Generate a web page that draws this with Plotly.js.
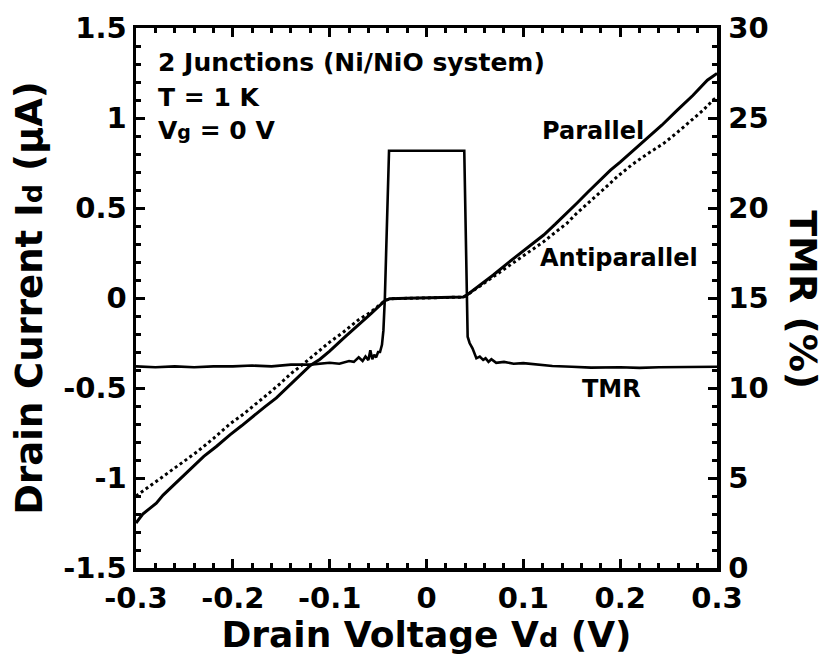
<!DOCTYPE html>
<html>
<head>
<meta charset="utf-8">
<script src="https://cdn.plot.ly/plotly-3.0.1.min.js"></script>
<style>html,body{margin:0;padding:0;background:#fff;}</style>
</head>
<body>
<div id="chart" style="width:825px;height:655px;"></div>
<script>
// Parallel (solid) drain current, µA
const parallelV = [-0.300, -0.293, -0.286, -0.279, -0.272, -0.264, -0.255, -0.243, -0.230, -0.217, -0.203, -0.191, -0.179, -0.167, -0.155, -0.146, -0.138, -0.129, -0.120, -0.110, -0.100, -0.085, -0.070, -0.057, -0.043, -0.038, -0.020, 0.000, 0.020, 0.038, 0.0415, 0.055, 0.069, 0.083, 0.097, 0.109, 0.121, 0.133, 0.145, 0.155, 0.166, 0.180, 0.190, 0.200, 0.214, 0.228, 0.243, 0.259, 0.275, 0.290, 0.300];
const parallelI = [-1.25, -1.20, -1.17, -1.14, -1.095, -1.055, -1.01, -0.945, -0.88, -0.825, -0.76, -0.71, -0.655, -0.605, -0.555, -0.51, -0.47, -0.42, -0.375, -0.34, -0.295, -0.22, -0.15, -0.085, -0.015, -0.004, -0.002, 0.0, 0.002, 0.005, 0.015, 0.07, 0.128, 0.19, 0.248, 0.30, 0.35, 0.41, 0.47, 0.525, 0.585, 0.66, 0.71, 0.755, 0.82, 0.887, 0.96, 1.044, 1.125, 1.21, 1.248];

// Antiparallel (dotted) drain current, µA
const antiV = [-0.300, -0.286, -0.272, -0.255, -0.237, -0.220, -0.203, -0.189, -0.175, -0.163, -0.151, -0.140, -0.128, -0.115, -0.100, -0.086, -0.070, -0.058, -0.050, -0.043, -0.038, -0.020, 0.000, 0.020, 0.038, 0.0415, 0.055, 0.069, 0.083, 0.097, 0.109, 0.121, 0.133, 0.145, 0.155, 0.166, 0.182, 0.197, 0.212, 0.228, 0.245, 0.259, 0.272, 0.285, 0.296, 0.300];
const antiI = [-1.10, -1.045, -0.99, -0.925, -0.855, -0.78, -0.70, -0.645, -0.585, -0.53, -0.475, -0.42, -0.37, -0.31, -0.245, -0.19, -0.12, -0.08, -0.045, -0.015, -0.004, -0.002, 0.0, 0.002, 0.005, 0.015, 0.065, 0.12, 0.17, 0.225, 0.27, 0.313, 0.365, 0.415, 0.47, 0.525, 0.60, 0.674, 0.74, 0.80, 0.859, 0.92, 0.98, 1.04, 1.10, 1.115];

// TMR (%), right axis
const tmrV = [-0.300, -0.280, -0.260, -0.240, -0.220, -0.200, -0.180, -0.160, -0.140, -0.120, -0.100, -0.090, -0.080, -0.075, -0.070, -0.066, -0.063, -0.060, -0.058, -0.056, -0.054, -0.052, -0.050, -0.048, -0.046, -0.0445, -0.043, -0.0387, 0.000, 0.0390, 0.0425, 0.0445, 0.0475, 0.0500, 0.0515, 0.0550, 0.0585, 0.0610, 0.0640, 0.0670, 0.0720, 0.0800, 0.0900, 0.1000, 0.1150, 0.1300, 0.1500, 0.1700, 0.2000, 0.2200, 0.2400, 0.2700, 0.3000];
const tmrPct = [11.2, 11.15, 11.2, 11.15, 11.2, 11.2, 11.25, 11.2, 11.3, 11.3, 11.4, 11.35, 11.5, 11.45, 11.7, 11.5, 11.75, 11.55, 12.1, 11.6, 11.85, 11.7, 12.0, 12.0, 12.4, 13.2, 15.0, 23.18, 23.18, 23.18, 12.85, 12.5, 12.2, 11.83, 11.65, 11.74, 11.56, 11.65, 11.45, 11.6, 11.4, 11.45, 11.35, 11.38, 11.3, 11.22, 11.18, 11.13, 11.15, 11.12, 11.15, 11.15, 11.18];

// Tick labels
const xTickVals = [-0.3, -0.2, -0.1, 0, 0.1, 0.2, 0.3];
const xTickText = ["-0.3", "-0.2", "-0.1", "0", "0.1", "0.2", "0.3"];
const yTickVals = [-1.5, -1, -0.5, 0, 0.5, 1, 1.5];
const yTickText = ["-1.5", "-1", "-0.5", "0", "0.5", "1", "1.5"];
const y2TickVals = [0, 5, 10, 15, 20, 25, 30];
const y2TickText = ["0", "5", "10", "15", "20", "25", "30"];

const FONT = "DejaVu Sans, Verdana, sans-serif";

const traces = [
  {x: parallelV, y: parallelI, type: "scatter", mode: "lines", name: "Parallel",
   line: {color: "#000", width: 3}},
  {x: antiV, y: antiI, type: "scatter", mode: "lines", name: "Antiparallel",
   line: {color: "#000", width: 3, dash: "dot"}},
  {x: tmrV, y: tmrPct, type: "scatter", mode: "lines", name: "TMR", yaxis: "y2",
   line: {color: "#000", width: 2.6}}
];

const axisCommon = {
  ticks: "inside", ticklen: 9, tickwidth: 3, tickcolor: "#000",
  showline: true, linewidth: 3.5, linecolor: "#000",
  showgrid: false, zeroline: false,
  tickfont: {family: FONT, size: 29, color: "#000", weight: "bold"}
};

const layout = {
  width: 825, height: 655,
  margin: {l: 136, r: 108, t: 28, b: 87},
  paper_bgcolor: "#fff", plot_bgcolor: "#fff",
  showlegend: false,
  font: {family: FONT, color: "#000", weight: "bold"},
  xaxis: Object.assign({}, axisCommon, {
    range: [-0.3, 0.3], tickmode: "array", tickvals: xTickVals, ticktext: xTickText,
    mirror: "ticks", ticklabelstandoff: 2,
    minor: {tickmode: "linear", tick0: 0, dtick: 0.02, ticks: "inside", ticklen: 5, tickwidth: 3, tickcolor: "#000"},
    title: {text: "Drain Voltage V<span style='font-size:27px'>d</span> (V)", standoff: 4,
            font: {family: FONT, size: 36, color: "#000", weight: "bold"}}
  }),
  yaxis: Object.assign({}, axisCommon, {
    range: [-1.5, 1.5], tickmode: "array", tickvals: yTickVals, ticktext: yTickText,
    minor: {tickmode: "linear", tick0: 0, dtick: 0.1, ticks: "inside", ticklen: 5, tickwidth: 3, tickcolor: "#000"},
    title: {text: "Drain Current I<span style='font-size:27px'>d</span> (μA)", standoff: 10,
            font: {family: FONT, size: 37, color: "#000", weight: "bold"}}
  }),
  yaxis2: Object.assign({}, axisCommon, {
    overlaying: "y", side: "right", ticklabelstandoff: 2,
    range: [0, 30], tickmode: "array", tickvals: y2TickVals, ticktext: y2TickText,
    minor: {tickmode: "linear", tick0: 0, dtick: 1, ticks: "inside", ticklen: 5, tickwidth: 3, tickcolor: "#000"}
  }),
  annotations: [
    {text: "TMR (%)", xref: "paper", yref: "paper", x: 1.148, y: 0.496, textangle: 90,
     showarrow: false, xanchor: "center", yanchor: "middle",
     font: {family: FONT, size: 38, color: "#000", weight: "bold"}},
    {text: "2 Junctions (Ni/NiO system)", xref: "paper", yref: "paper", x: 0.034, y: 0.936,
     showarrow: false, xanchor: "left", yanchor: "middle",
     font: {family: FONT, size: 25, color: "#000", weight: "bold"}},
    {text: "T = 1 K", xref: "paper", yref: "paper", x: 0.034, y: 0.872,
     showarrow: false, xanchor: "left", yanchor: "middle",
     font: {family: FONT, size: 25, color: "#000", weight: "bold"}},
    {text: "V<span style='font-size:19px'>g</span> = 0 V", xref: "paper", yref: "paper", x: 0.034, y: 0.810,
     showarrow: false, xanchor: "left", yanchor: "middle",
     font: {family: FONT, size: 25, color: "#000", weight: "bold"}},
    {text: "Parallel", xref: "paper", yref: "paper", x: 0.696, y: 0.809,
     showarrow: false, xanchor: "left", yanchor: "middle",
     font: {family: FONT, size: 24, color: "#000", weight: "bold"}},
    {text: "Antiparallel", xref: "paper", yref: "paper", x: 0.692, y: 0.574,
     showarrow: false, xanchor: "left", yanchor: "middle",
     font: {family: FONT, size: 24, color: "#000", weight: "bold"}},
    {text: "TMR", xref: "paper", yref: "paper", x: 0.765, y: 0.3315,
     showarrow: false, xanchor: "left", yanchor: "middle",
     font: {family: FONT, size: 24, color: "#000", weight: "bold"}}
  ]
};

Plotly.newPlot("chart", traces, layout, {displayModeBar: false, staticPlot: true});
</script>
</body>
</html>
